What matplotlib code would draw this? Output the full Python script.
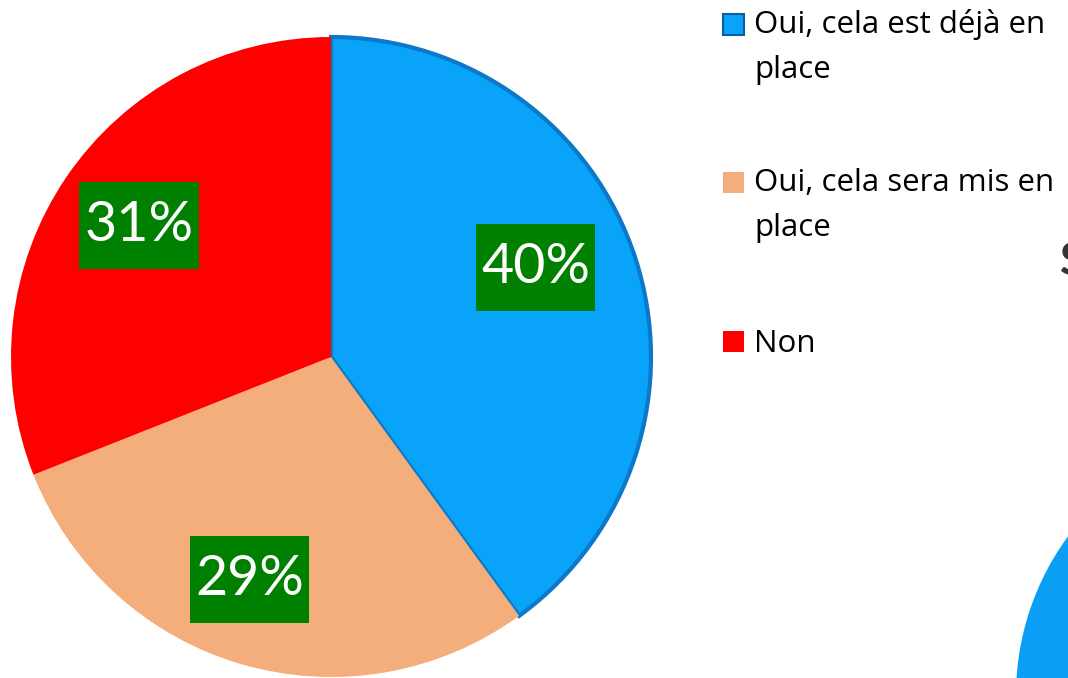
import matplotlib
matplotlib.use('Agg')
import matplotlib.pyplot as plt
from matplotlib.patches import Circle, Rectangle

# data
labels = ['Oui, cela est déjà en\nplace', 'Oui, cela sera mis en\nplace', 'Non']
values = [40, 29, 31]
colors = ['#0aa3fa', '#f4ae7c', '#ff0000']

plt.rcParams['font.family'] = ['Lato', 'DejaVu Sans']

W, H = 1068, 678
fig = plt.figure(figsize=(W / 100, H / 100), dpi=100)

# pie, centre ~ (331, 357) px, radius ~320 px
ax = fig.add_axes([11 / W, 1 / H, 640 / W, 640 / H])
wedges, _, autotexts = ax.pie(
    values, colors=colors, startangle=90, counterclock=False,
    autopct='%1.0f%%', pctdistance=0.72,
    wedgeprops=dict(linewidth=0),
    textprops=dict(color='white', fontsize=40),
)
ax.set_xlim(-1, 1)
ax.set_ylim(-1, 1)

# bevel look on the blue slice
wedges[0].set_edgecolor('#0b78c8')
wedges[0].set_linewidth(3)

for t in autotexts:
    t.set_bbox(dict(boxstyle='square,pad=0.09', mutation_aspect=3.6,
                    facecolor='#008000', edgecolor='none'))
autotexts[0].set_position((0.64, 0.28))
autotexts[2].set_position((-0.6, 0.41))
autotexts[1].set_position((-0.255, -0.695))

# legend drawn by hand so the marker sits on the first line
first_baselines = [35, 193, 352]
line_gap = 43
for lab, col, yb in zip(labels, colors, first_baselines):
    ec = '#0b5fa0' if col == colors[0] else 'none'
    fig.patches.append(Rectangle((723, H - yb), 21, 21, transform=None,
                                 facecolor=col, edgecolor=ec, linewidth=1.5))
    # va='baseline' anchors the last line
    y_last = yb + line_gap * lab.count('\n')
    fig.text(754 / W, 1 - y_last / H, lab, fontsize=22.5, family='Open Sans',
             va='baseline', ha='left', linespacing=1.65, color='black')

# fragments of the neighbouring chart, cut off at the right edge
fig.text(1060 / W, 1 - 275 / H, 'S', fontsize=33, fontweight='bold', color='#333333')
fig.patches.append(Circle((12.84, (H - 695) / 100), 2.68, transform=fig.dpi_scale_trans,
                          facecolor='#0a9ef5', edgecolor='none'))

fig.savefig('out.png', dpi=100)
